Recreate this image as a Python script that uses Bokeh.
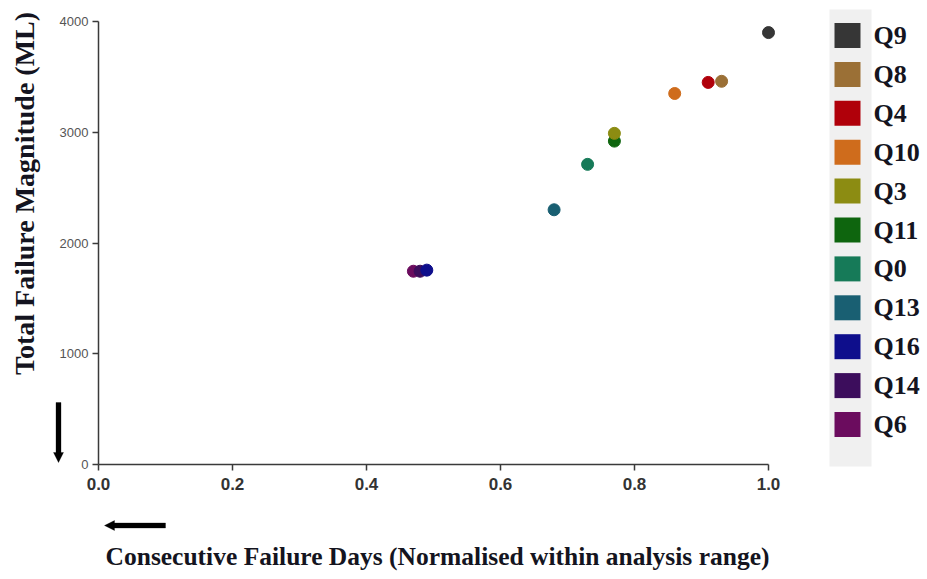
from bokeh.plotting import figure
from bokeh.models import (ColumnDataSource, Range1d, Label, PolyAnnotation,
                          BoxAnnotation, FixedTicker, CustomJSTickFormatter,
                          LinearAxis)
from bokeh.embed import file_html
from bokeh.resources import INLINE

# Series (legend order) with normalised consecutive-failure days and total magnitude
names = ["Q9", "Q8", "Q4", "Q10", "Q3", "Q11", "Q0", "Q13", "Q16", "Q14", "Q6"]
days_norm = [1.00, 0.93, 0.91, 0.86, 0.77, 0.77, 0.73, 0.68, 0.49, 0.48, 0.47]
magnitude = [3900, 3460, 3450, 3350, 2990, 2920, 2710, 2300, 1755, 1745, 1745]
colors = ["#363636", "#9b7036", "#b0000a", "#cf6c1c", "#8c8c12", "#0e650e",
          "#167a58", "#195f72", "#0e0e8c", "#3c0d5c", "#6b0c5e"]

x_ticks = [0.0, 0.2, 0.4, 0.6, 0.8, 1.0]
y_ticks = [0, 1000, 2000, 3000, 4000]

W, H = 927, 579
# plot area inside the page: x 0..1 spans px 98..768, y 0..4000 spans px 464..21
AX_L, AX_R, AX_B, AX_T = 98, 768, 464, 21
kx = (AX_R - AX_L) / 1.0
ky = (AX_B - AX_T) / 4000.0

p = figure(width=W, height=H, output_backend="svg", toolbar_location=None,
           x_range=Range1d(-AX_L / kx, (W - AX_L) / kx),
           y_range=Range1d(-(H - AX_B) / ky, 4000 + AX_T / ky),
           x_axis_location=None, y_axis_location=None,
           min_border=0, min_border_left=0, min_border_right=0,
           min_border_top=0, min_border_bottom=0)
p.outline_line_color = None
p.xgrid.visible = False
p.ygrid.visible = False
p.background_fill_color = "white"
p.border_fill_color = "white"

xaxis = LinearAxis(fixed_location=0, bounds=(0, 1),
                   ticker=FixedTicker(ticks=x_ticks),
                   formatter=CustomJSTickFormatter(code="return tick.toFixed(1);"))
yaxis = LinearAxis(fixed_location=0, bounds=(0, 4000),
                   ticker=FixedTicker(ticks=y_ticks))
p.add_layout(xaxis, "below")
p.add_layout(yaxis, "left")

for ax in (xaxis, yaxis):
    ax.axis_line_color = "#3a3a3a"
    ax.axis_line_width = 1.5
    ax.major_tick_line_color = "#3a3a3a"
    ax.major_tick_line_width = 1.5
    ax.major_tick_out = 6
    ax.major_tick_in = 0
    ax.minor_tick_line_color = None

xaxis.major_label_text_font = "Liberation Sans"
xaxis.major_label_text_font_style = "bold"
xaxis.major_label_text_font_size = "17px"
xaxis.major_label_text_color = "#333333"
xaxis.major_label_standoff = 7

yaxis.major_label_text_font = "Liberation Sans"
yaxis.major_label_text_font_size = "13px"
yaxis.major_label_text_color = "#555555"
yaxis.major_label_standoff = 4

# Points: drawn last-to-first so earlier legend entries sit on top
order = list(range(len(names)))[::-1]
src = ColumnDataSource(dict(
    x=[days_norm[i] for i in order],
    y=[magnitude[i] for i in order],
    c=[colors[i] for i in order],
))
p.scatter("x", "y", source=src, size=12, fill_color="c", line_color="c",
          line_width=1)


def sy(py):
    # page y pixel (top-down) -> screen units (bottom-up)
    return H - py


title_font = "Liberation Serif"
p.add_layout(Label(x=437, y=sy(556), x_units="screen", y_units="screen",
                   text="Consecutive Failure Days (Normalised within analysis range)",
                   text_font=title_font, text_font_style="bold",
                   text_font_size="25.5px", text_color="#141420",
                   text_align="center", text_baseline="middle"))
p.add_layout(Label(x=24, y=sy(193), x_units="screen", y_units="screen",
                   text="Total Failure Magnitude (ML)", angle=1.5708,
                   text_font=title_font, text_font_style="bold",
                   text_font_size="28px", text_color="#141420",
                   text_align="center", text_baseline="middle"))

# Direction arrows beside the axes (shaft + head as one outline)
down_arrow = [(55.5, 402), (60.5, 402), (60.5, 452), (63, 452), (58, 462),
              (53, 452), (55.5, 452)]
left_arrow = [(165, 522.5), (165, 527.5), (114, 527.5), (114, 530), (104, 525),
              (114, 520), (114, 522.5)]
for shape in (down_arrow, left_arrow):
    p.add_layout(PolyAnnotation(xs=[a for a, _ in shape],
                                ys=[sy(b) for _, b in shape],
                                xs_units="screen", ys_units="screen",
                                fill_color="black", fill_alpha=1,
                                line_color="black", line_width=1))

# Legend panel
p.add_layout(BoxAnnotation(left=829, right=871, top=sy(9), bottom=sy(466),
                           left_units="screen", right_units="screen",
                           top_units="screen", bottom_units="screen",
                           fill_color="#f0f0f0", fill_alpha=1, line_color=None))
for i, (nm, col) in enumerate(zip(names, colors)):
    cy = 35 + i * 38.9
    p.add_layout(BoxAnnotation(left=834, right=860,
                               top=sy(cy - 12.5), bottom=sy(cy + 12.5),
                               left_units="screen", right_units="screen",
                               top_units="screen", bottom_units="screen",
                               fill_color=col, fill_alpha=1, line_color=None))
    p.add_layout(Label(x=873, y=sy(cy), x_units="screen", y_units="screen",
                       text=nm, text_font=title_font, text_font_style="bold",
                       text_font_size="26px", text_color="#141420",
                       text_baseline="middle"))

open("out.html", "w").write(file_html(p, INLINE))
